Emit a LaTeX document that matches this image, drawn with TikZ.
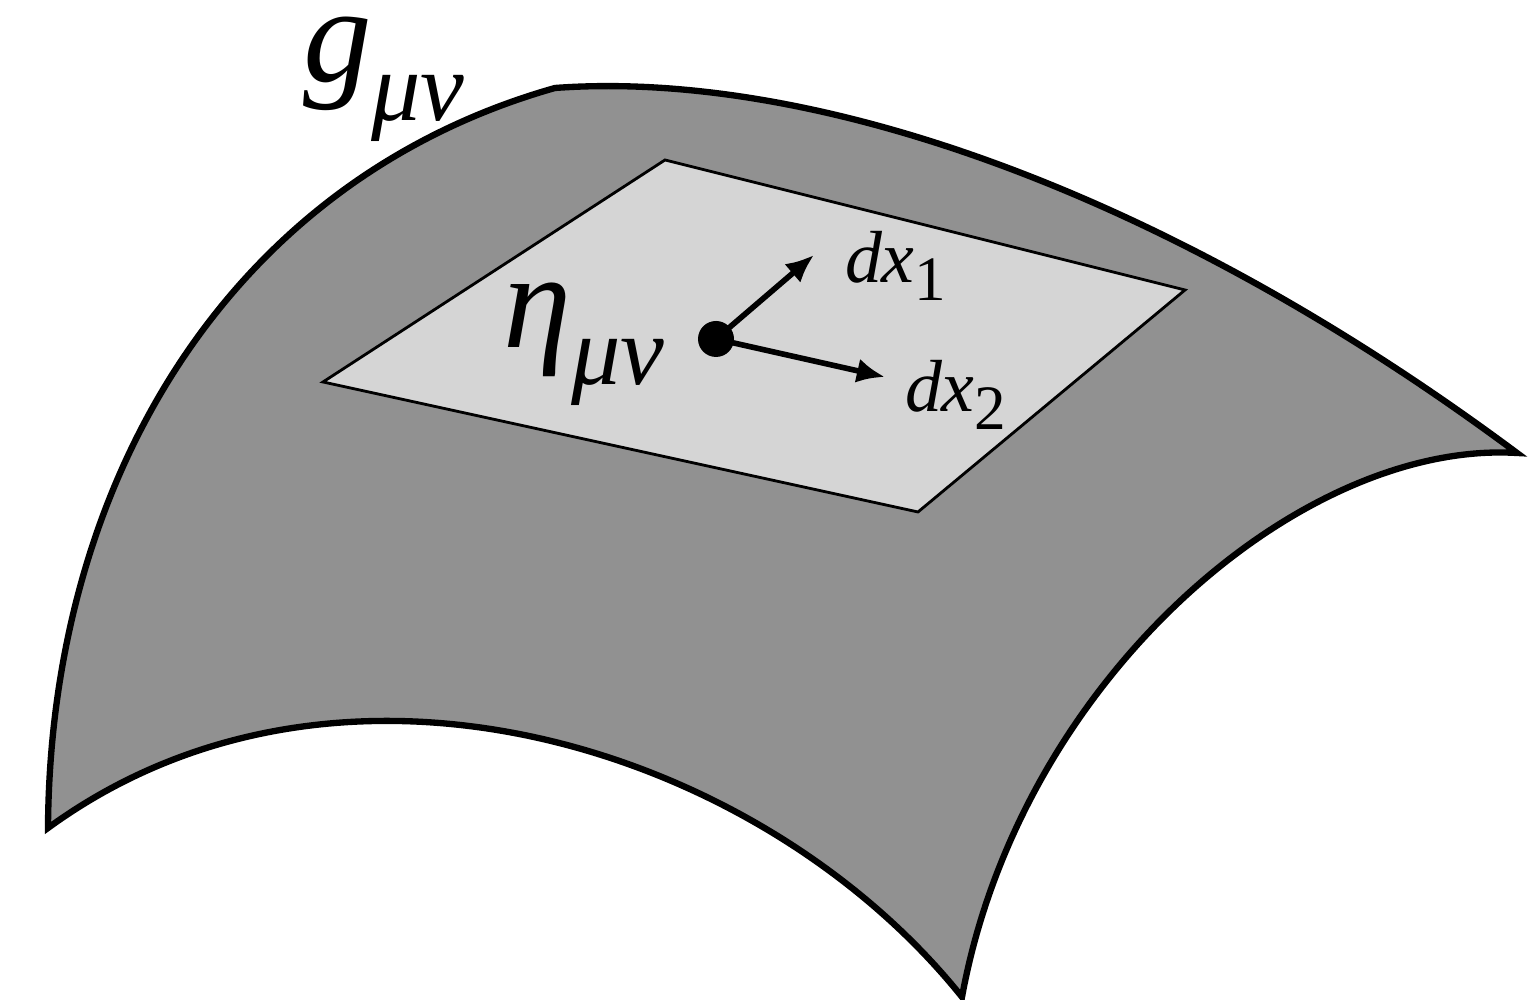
\documentclass[tikz,border=0pt]{standalone}
\usepackage{fontspec}
\setmainfont{Liberation Serif}
\usetikzlibrary{calc,arrows.meta}

\definecolor{surfgray}{RGB}{145,145,145}
\definecolor{planegray}{RGB}{213,213,213}

\begin{document}
\begin{tikzpicture}[x=1cm,y=1cm,
		surface/.style={line width=1.8pt,fill=surfgray,line join=miter},
		tangent/.style={line width=0.8pt,fill=planegray,line join=miter},
		vec/.style={line width=1.6pt,-{Latex[length=8pt,width=7pt]}},
		bigsym/.style={outer sep=0pt,inner sep=0pt,anchor=base west,font=\fontsize{39}{40}\selectfont\itshape},
		smallsym/.style={outer sep=0pt,inner sep=0pt,anchor=base west,font=\fontsize{21}{22}\selectfont\itshape}]
		
		\useasboundingbox (0,0) rectangle (15.38,10);
		
		% curved surface
		\draw [surface] (5.55,9.12) .. controls (8,9.3) and (11.5,8.2) .. (15.17,5.47)
			.. controls (13,5.6) and (10.2,3.2) .. (9.62,0.03)
			.. controls (7.6,2.55) and (3.4,3.85) .. (0.48,1.72)
			.. controls (0.5,5.2) and (2.3,8.2) .. cycle;
		
		% tangent plane
		\draw [tangent] (6.65,8.40) -- (11.85,7.10) -- (9.18,4.88) -- (3.23,6.18) -- cycle;
		
		\node[circle,fill=black,inner sep=0pt,minimum size=0.36cm] (p) at (7.16,6.61) {};
		\coordinate (t1) at (8.14,7.45);
		\coordinate (t2) at (8.85,6.23);
		
		\draw [vec] (p.center) -- (t1);
		\draw [vec] (p.center) -- (t2);
		
		\node[smallsym] (dxa) at (8.45,7.17) {dx\raisebox{-5pt}{\fontsize{18}{19}\selectfont\upshape 1}};
		\node[smallsym] (dxb) at (9.05,5.88) {dx\raisebox{-5pt}{\fontsize{18}{19}\selectfont\upshape 2}};
		
		\node[bigsym] (eta) at (5.03,6.52) {η\raisebox{-10.5pt}{\fontsize{28}{29}\selectfont μν}};
		\node[bigsym,text height=0.55em] (gmn) at (3.03,9.18) {g\raisebox{-11pt}{\fontsize{28}{29}\selectfont μν}};
		
	\end{tikzpicture}
\end{document}
